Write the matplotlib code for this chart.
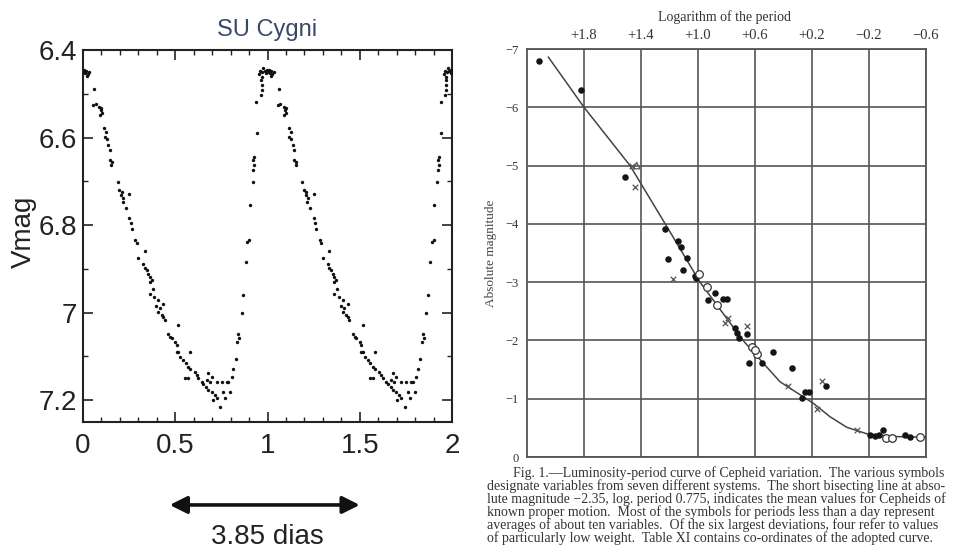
import matplotlib
matplotlib.use("Agg")
import matplotlib.pyplot as plt
from matplotlib.ticker import MultipleLocator
import numpy as np

# ---------------- Left panel data: SU Cygni phased light curve ----------------
phase = [0.003, 0.008, 0.012, 0.018, 0.025, 0.02, 0.035,
         0.061, 0.056, 0.07, 0.088, 0.096, 0.101, 0.092, 0.1, 0.114, 0.125, 0.119, 0.128,
         0.137, 0.146, 0.146, 0.155, 0.152, 0.188, 0.197, 0.21, 0.206, 0.218, 0.215,
         0.251, 0.233, 0.251, 0.258, 0.264, 0.282, 0.291, 0.336, 0.30, 0.327, 0.336,
         0.345, 0.354, 0.363, 0.372, 0.363, 0.377, 0.363, 0.385, 0.408, 0.435, 0.396,
         0.417, 0.408, 0.427, 0.435, 0.444, 0.517, 0.462, 0.472, 0.481, 0.499, 0.508,
         0.508, 0.517, 0.58, 0.526, 0.544, 0.558, 0.571, 0.58, 0.607, 0.616, 0.624,
         0.643, 0.652, 0.667, 0.679, 0.555, 0.57, 0.679, 0.697, 0.67, 0.688, 0.724,
         0.751, 0.778, 0.697, 0.715, 0.724, 0.703, 0.743, 0.76, 0.77, 0.797, 0.788,
         0.806, 0.815, 0.829, 0.836, 0.842, 0.847, 0.86, 0.869, 0.883, 0.89, 0.901,
         0.905, 0.919, 0.923, 0.927, 0.923, 0.927, 0.941, 0.938, 0.963, 0.968, 0.968,
         0.965, 0.968, 0.955, 0.96, 0.972, 0.978, 0.985, 0.992, 0.997]
vmag = [6.45, 6.445, 6.452, 6.448, 6.455, 6.46, 6.45,
        6.49, 6.526, 6.524, 6.53, 6.537, 6.545, 6.549, 6.533, 6.579, 6.588, 6.598, 6.603,
        6.617, 6.629, 6.651, 6.657, 6.663, 6.701, 6.72, 6.724, 6.731, 6.739, 6.747,
        6.73, 6.76, 6.785, 6.796, 6.81, 6.834, 6.842, 6.859, 6.876, 6.89, 6.898,
        6.903, 6.911, 6.918, 6.926, 6.93, 6.945, 6.957, 6.964, 6.971, 6.981, 6.984,
        6.99, 6.999, 7.006, 7.01, 7.017, 7.029, 7.048, 7.055, 7.059, 7.067, 7.074,
        7.09, 7.09, 7.09, 7.101, 7.109, 7.116, 7.124, 7.128, 7.135, 7.143, 7.15,
        7.158, 7.164, 7.17, 7.177, 7.15, 7.15, 7.139, 7.147, 7.154, 7.158, 7.158,
        7.158, 7.158, 7.181, 7.189, 7.196, 7.2, 7.215, 7.181, 7.196, 7.181, 7.158,
        7.147, 7.128, 7.105, 7.067, 7.048, 7.059, 7.0, 6.96, 6.884, 6.838, 6.834,
        6.754, 6.701, 6.674, 6.663, 6.651, 6.644, 6.59, 6.518, 6.503, 6.491, 6.48,
        6.469, 6.461, 6.455, 6.447, 6.45, 6.442, 6.447, 6.452, 6.445]
n_cycles = [0, 1]
left_xticks = [0, 0.5, 1, 1.5, 2]
left_yticks = [6.4, 6.6, 6.8, 7.0, 7.2]
left_ytick_labels = ["6.4", "6.6", "6.8", "7", "7.2"]
left_xtick_labels = ["0", "0.5", "1", "1.5", "2"]
period_text = "3.85 dias"

# ---------------- Right panel data: Shapley period-luminosity ----------------
curve_logp = [2.05, 1.8, 1.477, 1.23, 0.986, 0.684, 0.542, 0.424, 0.19, 0.073, -0.044, -0.195, -0.394, -0.6]
curve_mag = [-6.86, -6.0, -5.0, -4.0, -3.0, -2.0, -1.61, -1.29, -0.92, -0.69, -0.51, -0.39, -0.35, -0.34]

dots_logp = [2.114, 1.821, 1.512, 1.232, 1.138, 1.119, 1.075, 1.208, 1.103, 1.021, 1.014, 0.881,
             0.928, 0.822, 0.799, 0.74, 0.728, 0.71, 0.658, 0.64, 0.553, 0.472, 0.342, 0.272,
             0.249, 0.219, 0.102, -0.21, -0.24, -0.27, -0.30, -0.453, -0.488]
dots_mag = [-6.79, -6.30, -4.80, -3.91, -3.71, -3.61, -3.41, -3.40, -3.20, -3.11, -3.07, -2.81,
            -2.69, -2.71, -2.71, -2.21, -2.12, -2.04, -2.11, -1.61, -1.62, -1.81, -1.52, -1.02,
            -1.11, -1.11, -1.22, -0.38, -0.36, -0.38, -0.47, -0.38, -0.35]
open_logp = [0.993, 0.939, 0.864, 0.623, 0.588, 0.6, -0.32, -0.36, -0.558]
open_mag = [-3.14, -2.92, -2.61, -1.89, -1.77, -1.84, -0.33, -0.33, -0.34]
cross_logp = [1.178, 0.787, 0.81, 0.658, 0.366, 0.132, 0.167, -0.114, 1.442, 1.46]
cross_mag = [-3.05, -2.38, -2.30, -2.24, -1.21, -1.31, -0.82, -0.46, -4.64, -5.0]
tri_logp = [1.43]
tri_mag = [-5.0]

right_xticks = [1.8, 1.4, 1.0, 0.6, 0.2, -0.2, -0.6]
right_xtick_labels = ["+1.8", "+1.4", "+1.0", "+0.6", "+0.2", "\u22120.2", "\u22120.6"]
right_yticks = [-7, -6, -5, -4, -3, -2, -1, 0]
right_ytick_labels = ["\u22127", "\u22126", "\u22125", "\u22124", "\u22123", "\u22122", "\u22121", "0"]

caption = [
    "Fig. 1.\u2014Luminosity-period curve of Cepheid variation.  The various symbols",
    "designate variables from seven different systems.  The short bisecting line at abso-",
    "lute magnitude \u22122.35, log. period 0.775, indicates the mean values for Cepheids of",
    "known proper motion.  Most of the symbols for periods less than a day represent",
    "averages of about ten variables.  Of the six largest deviations, four refer to values",
    "of particularly low weight.  Table XI contains co-ordinates of the adopted curve.",
]

# ---------------- Figure ----------------
W, H = 961, 554
fig = plt.figure(figsize=(W / 100, H / 100), dpi=100)

sans = ["Liberation Sans", "DejaVu Sans"]
serif = ["Liberation Serif", "DejaVu Serif"]

# Left axes
axL = fig.add_axes([83 / W, 1 - 422 / H, (452 - 83) / W, (422 - 50) / H])
ph = np.array(phase)
vm = np.array(vmag)
for c in n_cycles:
    axL.scatter(ph + c, vm, s=6, c="#111111", marker="o", linewidths=0, zorder=3)
axL.set_xlim(0, 2)
axL.set_ylim(7.25, 6.4)
axL.set_xticks(left_xticks)
axL.set_xticklabels(left_xtick_labels, fontfamily=sans, fontsize=20, color="#222222")
axL.set_yticks(left_yticks)
axL.set_yticklabels(left_ytick_labels, fontfamily=sans, fontsize=20, color="#222222")
axL.xaxis.set_minor_locator(MultipleLocator(0.1))
axL.yaxis.set_minor_locator(MultipleLocator(0.1))
axL.tick_params(which="both", direction="in", top=True, right=True, color="#222222")
axL.tick_params(which="major", length=7, width=1.2)
axL.tick_params(which="minor", length=3.5, width=1.0)
axL.tick_params(axis="x", pad=8)
axL.tick_params(axis="y", pad=4)
for sp in axL.spines.values():
    sp.set_linewidth(1.5)
    sp.set_color("#222222")
axL.set_title("SU Cygni", fontfamily=sans, fontsize=17, color="#3a4868", pad=10)
axL.set_ylabel("Vmag", fontfamily=sans, fontsize=20, color="#222222")
axL.yaxis.set_label_coords(-0.125, 0.51)

axL.annotate("", xy=(0.47, -0.223), xytext=(1.5, -0.223),
             xycoords=("data", "axes fraction"), textcoords=("data", "axes fraction"),
             arrowprops=dict(arrowstyle="<|-|>", color="#111111", lw=2.6,
                             mutation_scale=26, shrinkA=0, shrinkB=0),
             annotation_clip=False)
axL.text(1.0, -0.31, period_text, transform=axL.get_xaxis_transform(),
         ha="center", va="center", fontfamily=sans, fontsize=20, color="#222222",
         clip_on=False)

# Right axes
axR = fig.add_axes([527 / W, 1 - 457 / H, (926 - 527) / W, (457 - 49) / H])
axR.plot(curve_logp, curve_mag, color="#444444", lw=1.1, zorder=3)
axR.scatter(dots_logp, dots_mag, s=22, c="#151515", marker="o", linewidths=0, zorder=4)
axR.scatter(open_logp, open_mag, s=30, facecolors="white", edgecolors="#333333",
            linewidths=0.9, zorder=4)
axR.scatter(cross_logp, cross_mag, s=16, c="#555555", marker="x", linewidths=0.9, zorder=4)
axR.scatter(tri_logp, tri_mag, s=22, facecolors="none", edgecolors="#555555", marker="^",
            linewidths=0.9, zorder=4)
axR.set_xlim(2.2, -0.6)
axR.set_ylim(0, -7)
axR.set_xticks(right_xticks)
axR.set_xticklabels(right_xtick_labels, fontfamily=serif, fontsize=10.5, color="#333333")
axR.set_yticks(right_yticks)
axR.set_yticklabels(right_ytick_labels, fontfamily=serif, fontsize=9, color="#333333")
axR.xaxis.tick_top()
axR.tick_params(axis="both", length=0)
axR.tick_params(axis="x", pad=5)
axR.tick_params(axis="y", pad=6)
axR.grid(True, color="#555555", lw=1.2)
axR.set_axisbelow(True)
for sp in axR.spines.values():
    sp.set_linewidth(1.3)
    sp.set_color("#555555")
axR.xaxis.set_label_position("top")
axR.set_xlabel("Logarithm of the period", fontfamily=serif, fontsize=10, color="#333333")
axR.xaxis.set_label_coords(0.496, 1.069)
axR.set_ylabel("Absolute magnitude", fontfamily=serif, fontsize=9.5, color="#444444")
axR.yaxis.set_label_coords(-0.075, 0.5)

# Caption (sized so that the widest line fits inside the figure)
line_y = [473, 486, 499, 512, 525, 538]
cap_texts = []
for i, (txt, y) in enumerate(zip(caption, line_y)):
    x = 513 if i == 0 else 487
    t = fig.text(x / W, 1 - y / H, txt, ha="left", va="center", fontfamily=serif,
                 fontsize=10, color="#333333")
    cap_texts.append((t, x))
fig.canvas.draw()
renderer = fig.canvas.get_renderer()
widest = max(t.get_window_extent(renderer).x1 - x for t, x in cap_texts)
avail = W - 4 - 487
scale = min(1.0, avail / widest) if widest > 0 else 1.0
for t, x in cap_texts:
    t.set_fontsize(10 * scale)

fig.savefig("out.png", dpi=100, facecolor="white")
